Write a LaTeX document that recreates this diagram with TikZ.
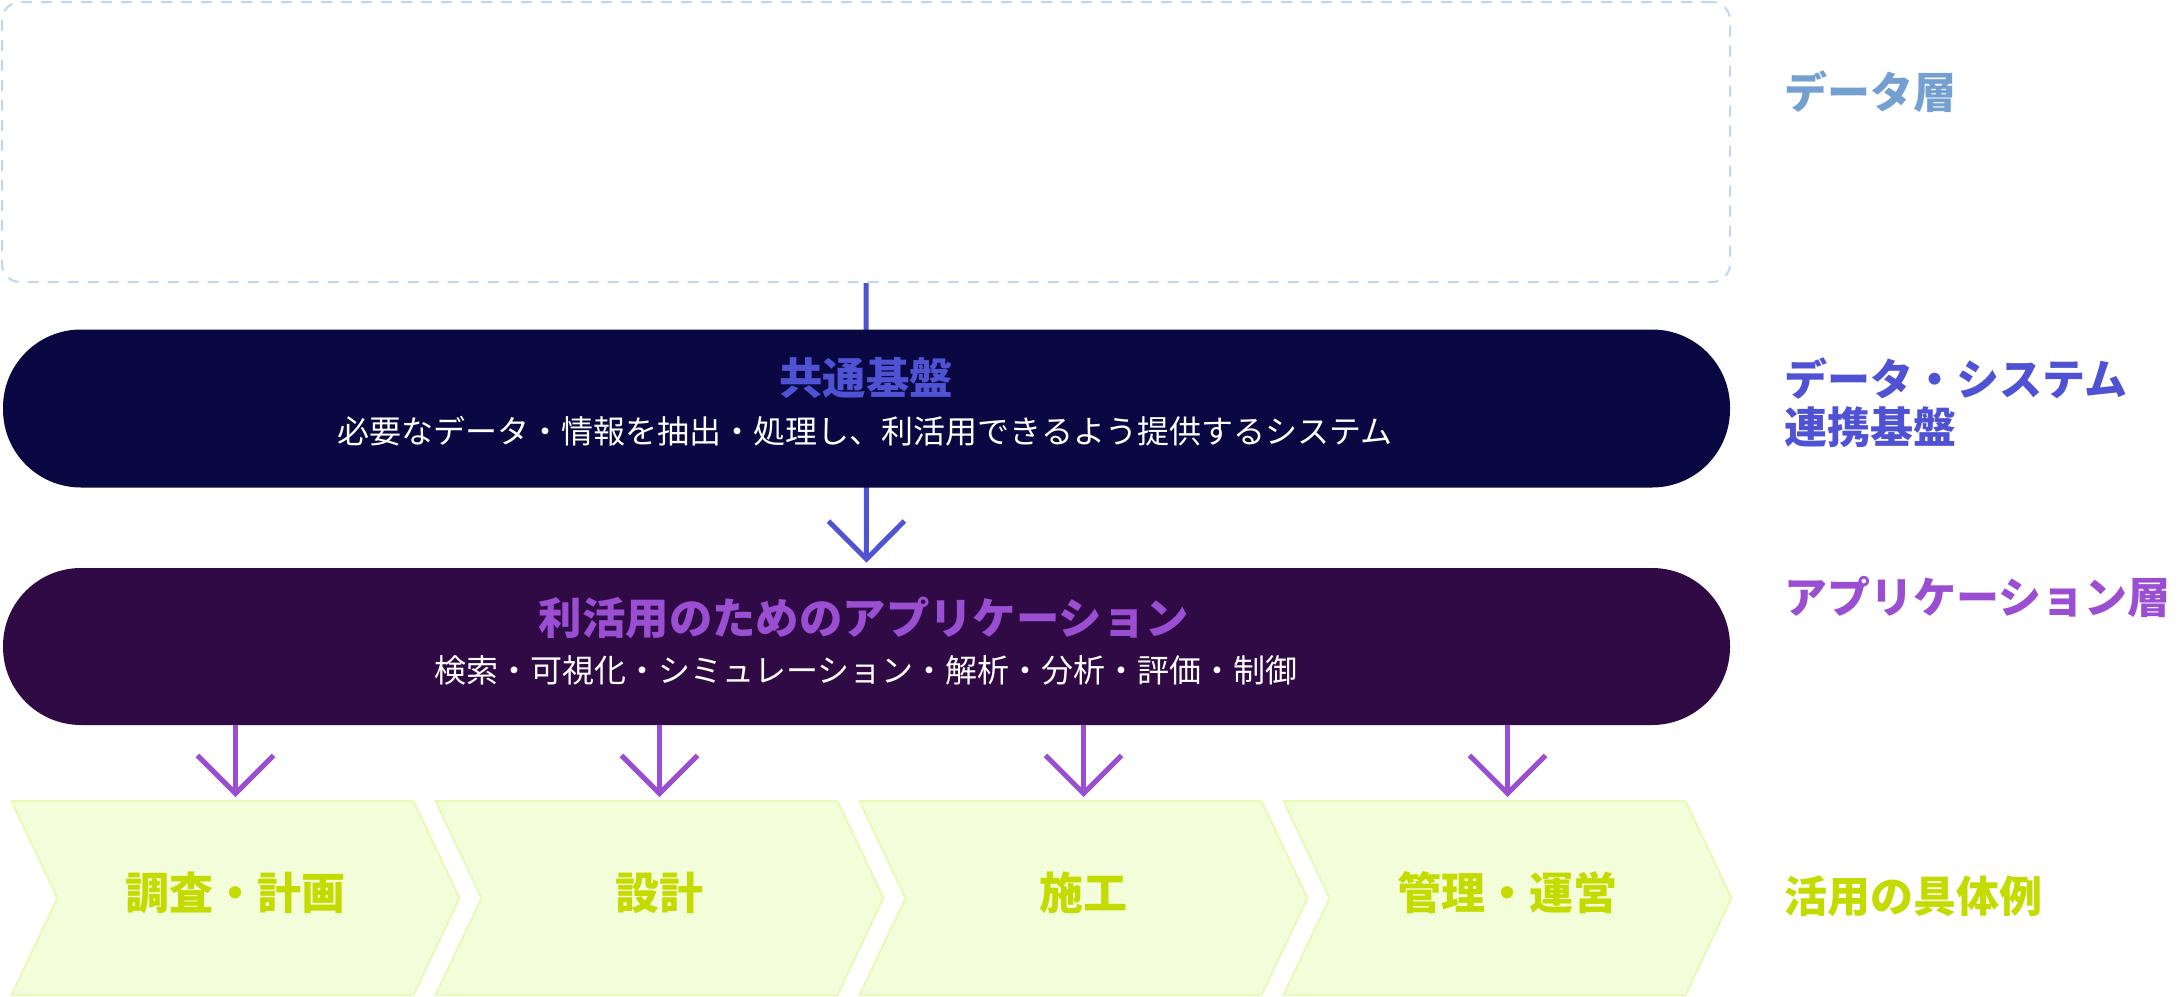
\documentclass[tikz,border=0pt]{standalone}
\usepackage{fontspec}
\setmainfont{Noto Sans CJK JP}
\usepackage{xcolor}
\usepackage{tikz}
\usetikzlibrary{positioning, arrows.meta, calc, backgrounds}

\definecolor{DataLine}{HTML}{C2D6EC}
\definecolor{DataText}{HTML}{74A0D1}
\definecolor{BaseFill}{HTML}{0A0843}
\definecolor{BaseText}{HTML}{5052D4}
\definecolor{AppFill}{HTML}{300A45}
\definecolor{AppText}{HTML}{9A4FD3}
\definecolor{UseFill}{HTML}{F3FDD9}
\definecolor{UseLine}{HTML}{E8FAB9}
\definecolor{UseText}{HTML}{C4DB00}

\begin{document}
\begin{tikzpicture}[x=0.5pt, y=-0.5pt,
    databox/.style={draw=DataLine, line width=1pt, dash pattern=on 5.5pt off 4.5pt,
        rounded corners=9pt, minimum width=864pt, minimum height=140pt, inner sep=0},
    pill/.style={rounded corners=39pt, minimum width=863.5pt, minimum height=79pt, inner sep=0},
    title/.style={font=\bfseries\fontsize{21.7}{26}\selectfont, inner sep=0},
    subtitle/.style={text=white, font=\fontsize{16}{19}\selectfont, inner sep=0},
    chevron/.style={fill=UseFill, draw=UseLine, line width=1pt, line join=miter},
    chevtext/.style={text=UseText, font=\bfseries\fontsize{22}{26}\selectfont, inner sep=0},
    layer/.style={anchor=west, align=left, inner sep=0, font=\bfseries\fontsize{21.5}{24}\selectfont},
    flow/.style={line width=2.5pt, -{Straight Barb[length=19pt, width=38pt]}}]

    \useasboundingbox (0,0) rectangle (2178,996);

    % data layer
    \node[databox] (data) at (866,142) {};

    % common base and application layer
    \node[pill, fill=BaseFill] (base) at (866.5,408.5) {};
    \node[title, text=BaseText] (baseTitle) at (866,378) {共通基盤};
    \node[subtitle] (baseText) at (865,431) {必要なデータ・情報を抽出・処理し、利活用できるよう提供するシステム};

    \node[pill, fill=AppFill, minimum height=78.5pt] (app) at (866.5,646.5) {};
    \node[title, text=AppText] (appTitle) at (864,618) {利活用のためのアプリケーション};
    \node[subtitle] (appText) at (866,670) {検索・可視化・シミュレーション・解析・分析・評価・制御};

    % connector behind the pills
    \begin{scope}[on background layer]
        \draw[flow, draw=BaseText, shorten >=2.5pt] (data.south) -- (app.north);
    \end{scope}

    % use cases
    \foreach \i/\name in {0/調査・計画, 1/設計, 2/施工, 3/管理・運営}
    {
        \pgfmathsetmacro{\L}{11.5+424*\i}
        \draw[chevron] (\L,801) -- ++(402,0) -- ++(46,97) -- ++(-46,97)
            -- ++(-402,0) -- ++(46,-97) -- cycle;
        \node[chevtext] (use\i) at (\L+224,893) {\name};
        \coordinate (useTop\i) at (\L+224,801);
        \draw[flow, draw=AppText, shorten >=2pt] (app.south -| useTop\i) -- (useTop\i);
    }

    % layer names
    \node[layer, text=DataText] (lblData) at (1784,92) {データ層};
    \node[layer, text=BaseText] (lblBase) at (1784,403) {データ・システム\\連携基盤};
    \node[layer, text=AppText] (lblApp) at (1784,597) {アプリケーション層};
    \node[layer, text=UseText] (lblUse) at (1784,896) {活用の具体例};
\end{tikzpicture}
\end{document}
